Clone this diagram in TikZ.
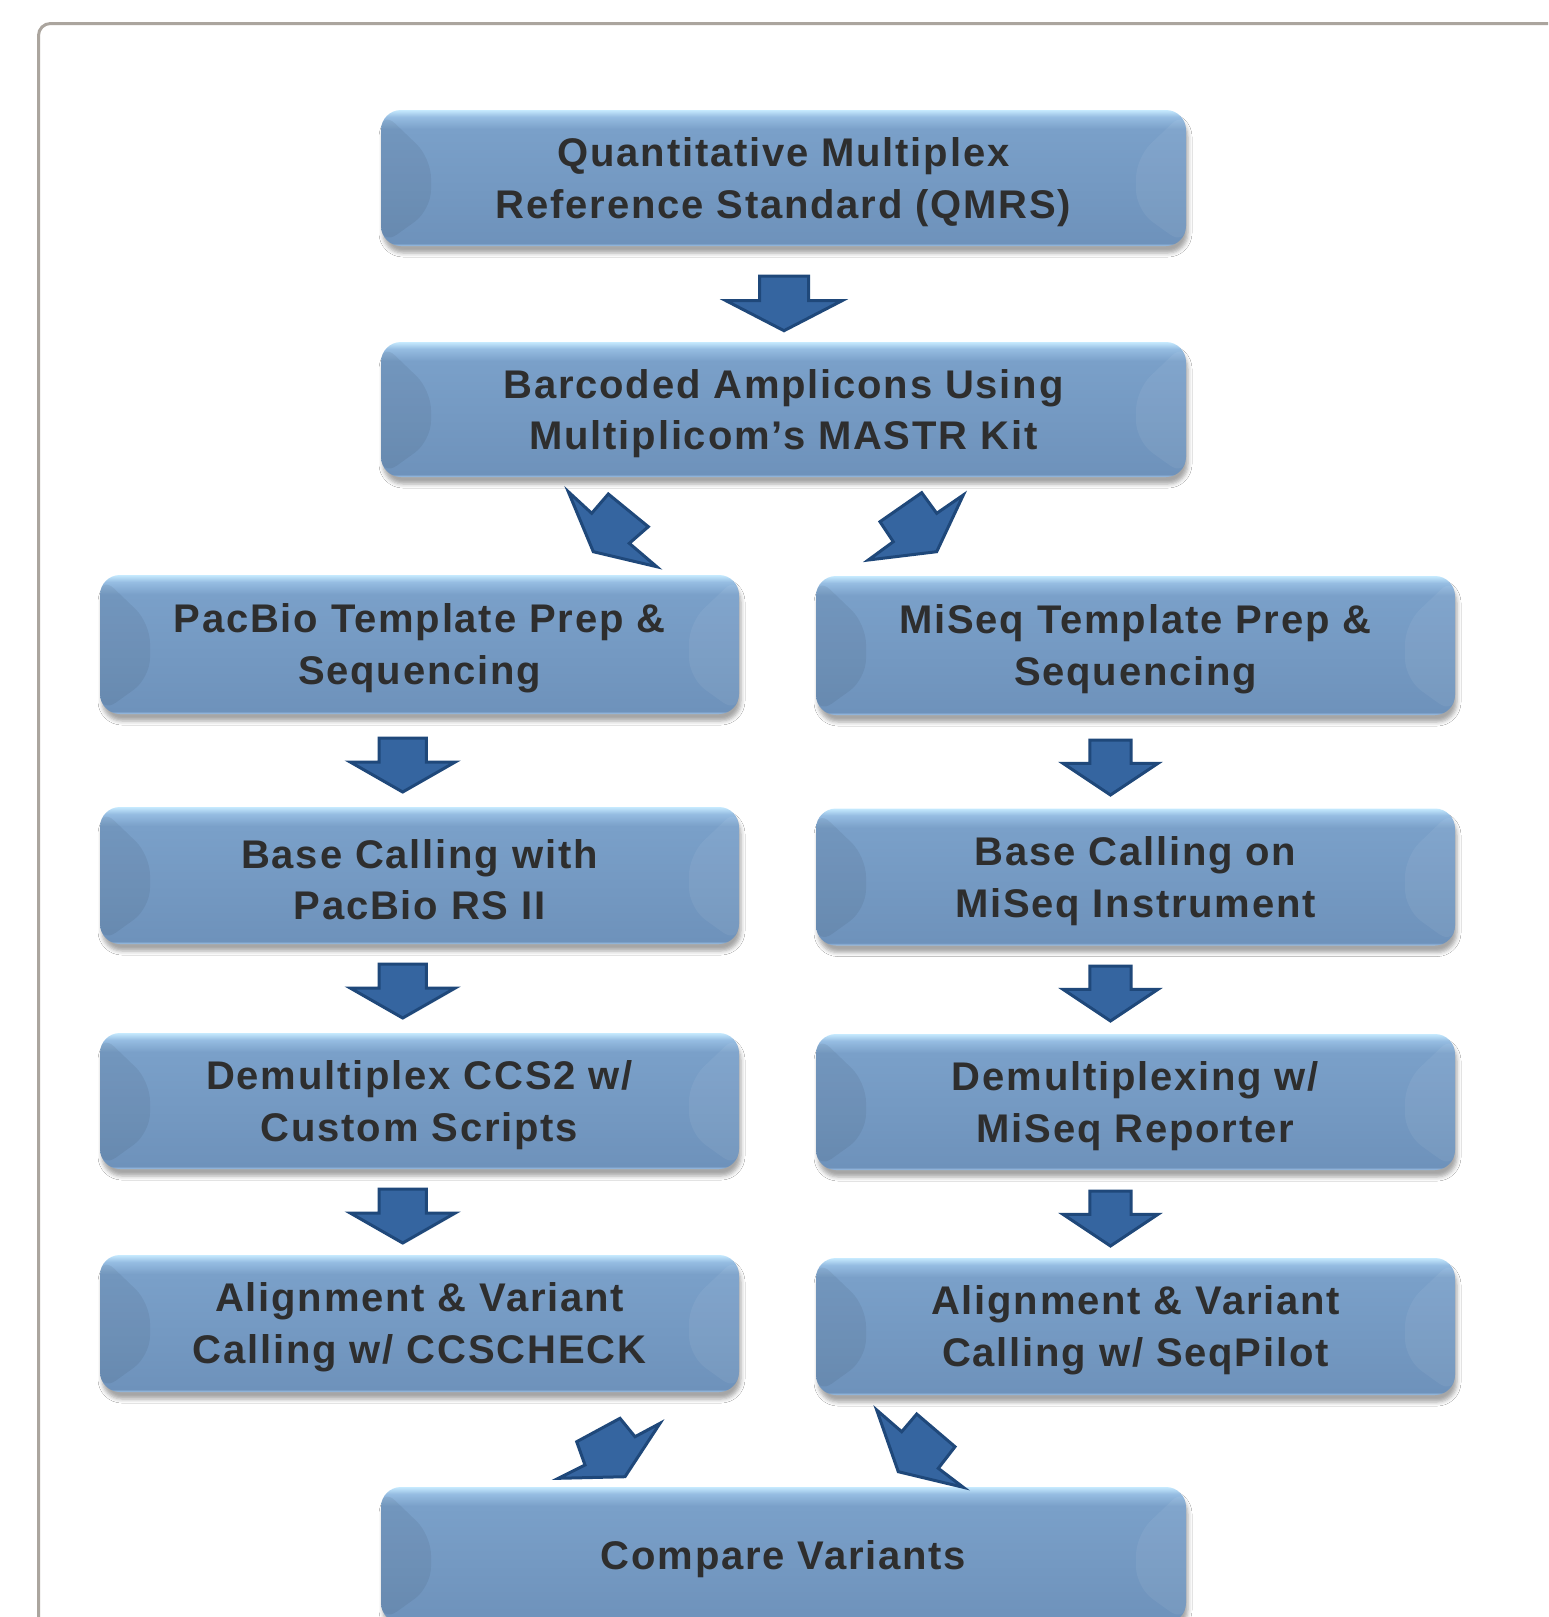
\documentclass[tikz,border=0pt]{standalone}
\usepackage{fontspec}
\setmainfont{Liberation Sans}[LetterSpace=4.5]
\usetikzlibrary{shadows.blur}
\definecolor{btop}{HTML}{C6EAFE}
\definecolor{btop2}{HTML}{96BDE2}
\definecolor{bmainT}{HTML}{7AA0C9}
\definecolor{bmainB}{HTML}{6E92BB}
\definecolor{bbot}{HTML}{A3C6EA}
\definecolor{arrfill}{HTML}{3565A0}
\definecolor{arrline}{HTML}{1F487A}
\definecolor{framec}{HTML}{ABA59E}
\definecolor{txtc}{HTML}{2E2E2E}
\pgfdeclareverticalshading{boxshade}{100bp}{color(0bp)=(bbot); color(25bp)=(bbot); color(26bp)=(bmainB); color(68bp)=(bmainT); color(72.5bp)=(btop2); color(75bp)=(btop); color(100bp)=(btop)}
\newcommand\downarr[6]{% cx, top, shaft half, wing half, wing dy, height
  \draw[barrow] (#1-#3,#2) -- (#1+#3,#2) -- (#1+#3,#2+#5) -- (#1+#4,#2+#5) -- (#1,#2+#6) -- (#1-#4,#2+#5) -- (#1-#3,#2+#5) -- cycle;}
\begin{document}
\begin{tikzpicture}[x=0.5pt,y=-0.5pt,
  box/.style={rectangle, rounded corners=10pt, shading=boxshade, draw=none, inner sep=0pt,
    blur shadow={shadow xshift=1pt, shadow yshift=-3.5pt, shadow blur radius=2pt, shadow opacity=35},
    path picture={
      \fill[black,opacity=0.06] (path picture bounding box.north west) -- ([shift={(25pt,-24pt)}]path picture bounding box.north west) -- ([shift={(25pt,18pt)}]path picture bounding box.south west) -- (path picture bounding box.south west) -- cycle;
      \fill[white,opacity=0.06] (path picture bounding box.north east) -- ([shift={(-25pt,-24pt)}]path picture bounding box.north east) -- ([shift={(-25pt,18pt)}]path picture bounding box.south east) -- (path picture bounding box.south east) -- cycle;
    }},
  btext/.style={font=\bfseries\fontsize{20}{25.8}\selectfont, text=txtc, align=center, inner sep=0pt},
  wide/.style={minimum width=402.5pt},
  side/.style={minimum width=319.5pt},
  barrow/.style={fill=arrfill, draw=arrline, line width=1.5pt, line join=miter}]
\useasboundingbox (0,0) rectangle (1548,1617);
\clip (0,0) rectangle (1548,1617);
\fill[white] (0,0) rectangle (1548,1617);
\draw[framec, line width=1.5pt, rounded corners=6pt] (38.5,23.5) rectangle (1700,1800);

\node[box, wide, minimum height=68pt] (qmrs) at (783.5,178) {};
\node[box, wide, minimum height=67.5pt] (bar) at (783.5,409.5) {};
\node[box, side, minimum height=69.5pt] (pac) at (419.5,644.5) {};
\node[box, side, minimum height=69.5pt] (mis) at (1135.5,645.5) {};
\node[box, side, minimum height=68.5pt] (bcl) at (419.5,875.5) {};
\node[box, side, minimum height=68.5pt] (bcr) at (1135.5,877) {};
\node[box, side, minimum height=68pt] (dml) at (419.5,1101) {};
\node[box, side, minimum height=68pt] (dmr) at (1135.5,1102) {};
\node[box, side, minimum height=68.5pt] (all) at (419.5,1323.5) {};
\node[box, side, minimum height=68.5pt] (alr) at (1135.5,1326.5) {};
\node[box, wide, minimum height=68pt] (cmp) at (783.5,1555) {};

\node[btext] (qmrs-t) at ([yshift=-2pt]qmrs.center) {Quantitative Multiplex\\Reference Standard (QMRS)};
\node[btext] (bar-t) at ([yshift=-2pt]bar.center) {Barcoded Amplicons Using\\Multiplicom’s MASTR Kit};
\node[btext] (pac-t) at ([yshift=-2pt]pac.center) {PacBio Template Prep \&\\Sequencing};
\node[btext] (mis-t) at ([yshift=-2pt]mis.center) {MiSeq Template Prep \&\\Sequencing};
\node[btext] (bcl-t) at ([yshift=-2pt]bcl.center) {Base Calling with\\PacBio RS II};
\node[btext] (bcr-t) at ([yshift=-2pt]bcr.center) {Base Calling on\\MiSeq Instrument};
\node[btext] (dml-t) at ([yshift=-2pt]dml.center) {Demultiplex CCS2 w/\\Custom Scripts};
\node[btext] (dmr-t) at ([yshift=-2pt]dmr.center) {Demultiplexing w/\\MiSeq Reporter};
\node[btext] (all-t) at ([yshift=-2pt]all.center) {Alignment \& Variant\\Calling w/ CCSCHECK};
\node[btext] (alr-t) at ([yshift=-2pt]alr.center) {Alignment \& Variant\\Calling w/ SeqPilot};
\node[btext] (cmp-t) at ([yshift=-2pt]cmp.center) {Compare Variants};

% straight block arrows
\downarr{784}{276}{24.5}{58}{24.7}{54.7}
\downarr{402.7}{738}{23.7}{52.5}{24}{54}
\downarr{402.7}{964}{23.7}{52.5}{24}{54}
\downarr{402.7}{1189}{23.7}{52.5}{24}{54}
\downarr{1110.5}{740}{20.7}{47.5}{23.3}{55}
\downarr{1110.5}{966}{20.7}{47.5}{23.3}{55}
\downarr{1110.5}{1191}{20.7}{47.5}{23.3}{55}

% diagonal block arrows
\draw[barrow] (568.3,491.7) -- (591.7,513.3) -- (608.3,494) -- (648.3,526.7) -- (629.3,543.3) -- (656.7,566.7) -- (593.3,551.7) -- cycle;
\draw[barrow] (963.3,495) -- (936.7,513.3) -- (921.7,492.7) -- (880,521.7) -- (893.3,541.7) -- (868.3,560) -- (936.7,551.7) -- cycle;
\draw[barrow] (660,1423.3) -- (635,1436.7) -- (620,1418.3) -- (576.7,1441.7) -- (585,1465) -- (558.3,1478.3) -- (625,1476.7) -- cycle;
\draw[barrow] (876.7,1410) -- (901.7,1431.7) -- (916.7,1414) -- (955,1446.7) -- (938.3,1468.3) -- (963.3,1487.3) -- (898.3,1471.7) -- cycle;
\end{tikzpicture}
\end{document}
